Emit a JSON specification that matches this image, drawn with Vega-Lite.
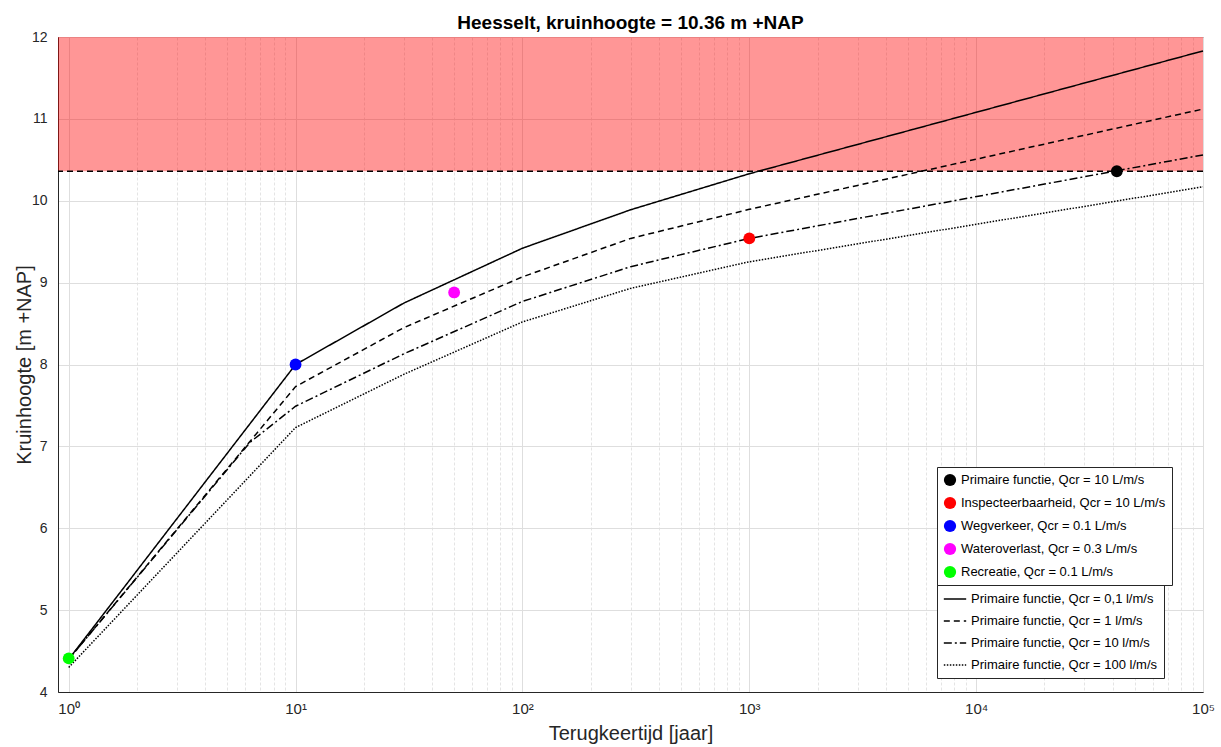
{
  "$schema": "https://vega.github.io/schema/vega-lite/v6.json",
  "width": 1145,
  "height": 655,
  "autosize": {"type": "none"},
  "padding": {"left": 58, "top": 37, "right": 18, "bottom": 55},
  "background": "white",
  "config": {
    "font": "Liberation Sans",
    "view": {"stroke": "#262626", "strokeWidth": 1},
    "legend": {
      "orient": "none",
      "fillColor": "white",
      "strokeColor": "#262626",
      "padding": 6,
      "labelFontSize": 13,
      "labelFont": "Liberation Sans",
      "labelColor": "black",
      "labelLimit": 400,
      "symbolOpacity": 1
    }
  },
  "title": {
    "text": "Heesselt, kruinhoogte = 10.36 m +NAP",
    "fontSize": 19,
    "fontWeight": "bold",
    "color": "black",
    "offset": -3,
    "anchor": "middle",
    "font": "Liberation Sans"
  },
  "datasets": {
    "band": [{"x1": 0.897, "x2": 100000, "y1": 10.36, "y2": 12}],
    "crest": [{"level": 10.36}],
    "curves": [
      {"curve": "Primaire functie, Qcr = 0,1 l/m/s", "T": 1, "h": 4.40},
      {"curve": "Primaire functie, Qcr = 0,1 l/m/s", "T": 10, "h": 8.00},
      {"curve": "Primaire functie, Qcr = 0,1 l/m/s", "T": 30, "h": 8.75},
      {"curve": "Primaire functie, Qcr = 0,1 l/m/s", "T": 100, "h": 9.42},
      {"curve": "Primaire functie, Qcr = 0,1 l/m/s", "T": 300, "h": 9.89},
      {"curve": "Primaire functie, Qcr = 0,1 l/m/s", "T": 1000, "h": 10.33},
      {"curve": "Primaire functie, Qcr = 0,1 l/m/s", "T": 100000, "h": 11.83},
      {"curve": "Primaire functie, Qcr = 1 l/m/s", "T": 1, "h": 4.40},
      {"curve": "Primaire functie, Qcr = 1 l/m/s", "T": 10, "h": 7.73},
      {"curve": "Primaire functie, Qcr = 1 l/m/s", "T": 30, "h": 8.45},
      {"curve": "Primaire functie, Qcr = 1 l/m/s", "T": 100, "h": 9.07},
      {"curve": "Primaire functie, Qcr = 1 l/m/s", "T": 300, "h": 9.54},
      {"curve": "Primaire functie, Qcr = 1 l/m/s", "T": 1000, "h": 9.895},
      {"curve": "Primaire functie, Qcr = 1 l/m/s", "T": 100000, "h": 11.12},
      {"curve": "Primaire functie, Qcr = 10 l/m/s", "T": 1, "h": 4.40},
      {"curve": "Primaire functie, Qcr = 10 l/m/s", "T": 6.3, "h": 7.05},
      {"curve": "Primaire functie, Qcr = 10 l/m/s", "T": 10, "h": 7.49},
      {"curve": "Primaire functie, Qcr = 10 l/m/s", "T": 30, "h": 8.13},
      {"curve": "Primaire functie, Qcr = 10 l/m/s", "T": 100, "h": 8.77},
      {"curve": "Primaire functie, Qcr = 10 l/m/s", "T": 300, "h": 9.195},
      {"curve": "Primaire functie, Qcr = 10 l/m/s", "T": 1000, "h": 9.54},
      {"curve": "Primaire functie, Qcr = 10 l/m/s", "T": 100000, "h": 10.56},
      {"curve": "Primaire functie, Qcr = 100 l/m/s", "T": 1, "h": 4.30},
      {"curve": "Primaire functie, Qcr = 100 l/m/s", "T": 10, "h": 7.23},
      {"curve": "Primaire functie, Qcr = 100 l/m/s", "T": 30, "h": 7.88},
      {"curve": "Primaire functie, Qcr = 100 l/m/s", "T": 100, "h": 8.52},
      {"curve": "Primaire functie, Qcr = 100 l/m/s", "T": 300, "h": 8.93},
      {"curve": "Primaire functie, Qcr = 100 l/m/s", "T": 1000, "h": 9.255},
      {"curve": "Primaire functie, Qcr = 100 l/m/s", "T": 100000, "h": 10.17}
    ],
    "points": [
      {"marker": "Primaire functie, Qcr = 10 L/m/s", "T": 41700, "h": 10.36},
      {"marker": "Inspecteerbaarheid, Qcr = 10 L/m/s", "T": 1000, "h": 9.54},
      {"marker": "Wegverkeer, Qcr = 0.1 L/m/s", "T": 10, "h": 8.0},
      {"marker": "Wateroverlast, Qcr = 0.3 L/m/s", "T": 50, "h": 8.88},
      {"marker": "Recreatie, Qcr = 0.1 L/m/s", "T": 1, "h": 4.41}
    ]
  },
  "layer": [
    {
      "data": {"name": "band"},
      "mark": {"type": "rect", "color": "#ff0000", "opacity": 0.41},
      "encoding": {
        "x": {
          "field": "x1",
          "type": "quantitative",
          "scale": {"type": "log", "domain": [0.897, 100000], "nice": false},
          "axis": {
            "title": "Terugkeertijd [jaar]",
            "titleFontSize": 20,
            "titleFontWeight": "normal",
            "titleColor": "#262626",
            "titlePadding": 7,
            "labelFontSize": 15,
            "labelColor": "#262626",
            "labelPadding": 9,
            "labelFlush": false,
            "labelOverlap": false,
            "labelExpr": "abs(log(datum.value)/LN10 - round(log(datum.value)/LN10)) < 0.001 ? '10' + ['⁰','¹','²','³','⁴','⁵'][round(log(datum.value)/LN10)] : ''",
            "values": [1,2,3,4,5,6,7,8,9,10,20,30,40,50,60,70,80,90,100,200,300,400,500,600,700,800,900,1000,2000,3000,4000,5000,6000,7000,8000,9000,10000,20000,30000,40000,50000,60000,70000,80000,90000,100000],
            "ticks": false,
            "domainColor": "#262626",
            "grid": true,
            "gridColor": {"condition": {"test": "abs(log(datum.value)/LN10 - round(log(datum.value)/LN10)) < 0.001", "value": "#dedede"}, "value": "#e4e4e4"},
            "gridDash": {"condition": {"test": "abs(log(datum.value)/LN10 - round(log(datum.value)/LN10)) < 0.001", "value": []}, "value": [3, 2]}
          }
        },
        "x2": {"field": "x2"},
        "y": {
          "field": "y1",
          "type": "quantitative",
          "scale": {"domain": [4, 12], "nice": false},
          "axis": {
            "title": "Kruinhoogte [m +NAP]",
            "titleFontSize": 20,
            "titleFontWeight": "normal",
            "titleColor": "#262626",
            "titlePadding": -3,
            "labelFontSize": 14,
            "labelColor": "#262626",
            "labelPadding": 11,
            "format": "d",
            "values": [4,5,6,7,8,9,10,11,12],
            "ticks": false,
            "domainColor": "#262626",
            "grid": true,
            "gridColor": "#dedede"
          }
        },
        "y2": {"field": "y2"}
      }
    },
    {
      "data": {"name": "crest"},
      "mark": {"type": "rule", "color": "black", "strokeDash": [6, 4], "strokeWidth": 1.5},
      "encoding": {
        "y": {"field": "level", "type": "quantitative"}
      }
    },
    {
      "data": {"name": "curves"},
      "mark": {"type": "line", "strokeWidth": 1.5, "color": "black"},
      "encoding": {
        "x": {"field": "T", "type": "quantitative"},
        "y": {"field": "h", "type": "quantitative"},
        "strokeDash": {
          "field": "curve",
          "type": "nominal",
          "scale": {
            "domain": [
              "Primaire functie, Qcr = 0,1 l/m/s",
              "Primaire functie, Qcr = 1 l/m/s",
              "Primaire functie, Qcr = 10 l/m/s",
              "Primaire functie, Qcr = 100 l/m/s"
            ],
            "range": [[1, 0], [6, 4], [8, 3, 2, 3], [1.5, 1.5]]
          },
          "legend": {
            "title": null,
            "orient": "none",
            "legendX": 879,
            "legendY": 544,
            "symbolType": "stroke",
            "symbolSize": 500,
            "rowPadding": 3,
            "symbolStrokeColor": "black",
            "symbolStrokeWidth": 1.5
          }
        }
      }
    },
    {
      "data": {"name": "points"},
      "mark": {"type": "point", "filled": true, "opacity": 1, "size": 140, "shape": "circle"},
      "encoding": {
        "x": {"field": "T", "type": "quantitative"},
        "y": {"field": "h", "type": "quantitative"},
        "color": {
          "field": "marker",
          "type": "nominal",
          "scale": {
            "domain": [
              "Primaire functie, Qcr = 10 L/m/s",
              "Inspecteerbaarheid, Qcr = 10 L/m/s",
              "Wegverkeer, Qcr = 0.1 L/m/s",
              "Wateroverlast, Qcr = 0.3 L/m/s",
              "Recreatie, Qcr = 0.1 L/m/s"
            ],
            "range": ["#000000", "#ff0000", "#0000ff", "#ff00ff", "#00ff00"]
          },
          "legend": {
            "title": null,
            "orient": "none",
            "legendX": 879,
            "legendY": 430,
            "symbolType": "circle",
            "symbolSize": 150,
            "rowPadding": 9
          }
        }
      }
    }
  ]
}
